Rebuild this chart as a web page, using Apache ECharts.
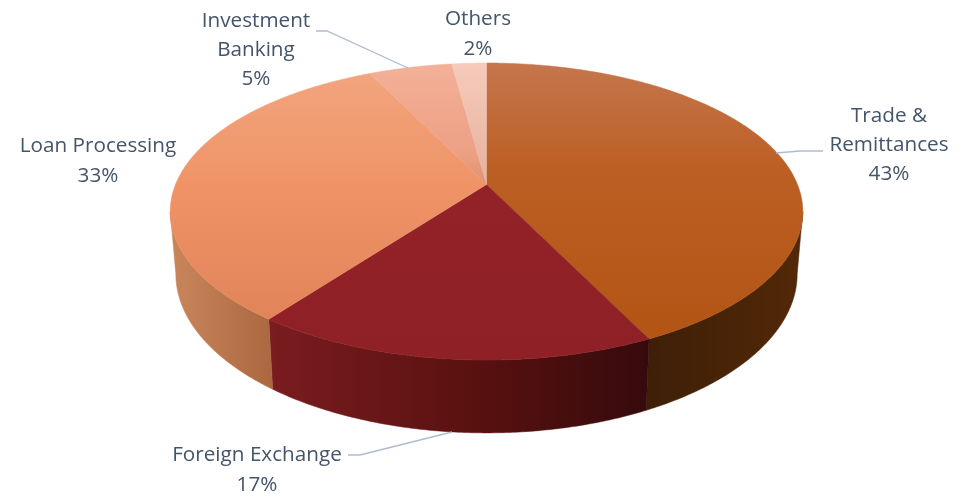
<!DOCTYPE html>
<html>
<head>
<meta charset="utf-8">
<style>html,body{margin:0;padding:0;background:#fff}#c{width:974px;height:494px}</style>
<script src="https://cdn.jsdelivr.net/npm/echarts@6/dist/echarts.min.js"></script>
</head>
<body>
<div id="c"></div>
<script>
// Data (labels show the rounded share)
var categories = ['Trade &\nRemittances', 'Foreign Exchange', 'Loan Processing', 'Investment\nBanking', 'Others'];
var shares = [42.8, 17.4, 32.6, 5.1, 2.1];

// Style
var topStops = [
  [[0, '#C5764D'], [0.36, '#BC5F24'], [1, '#B15311']],
  [[0, '#95222A'], [1, '#8F2026']],
  [[0, '#F2A67F'], [0.4, '#F09468'], [1, '#DD7F55']],
  [[0, '#F3B198'], [0.3, '#EDA084'], [0.42, '#E09071']],
  [[0, '#F6CBBB'], [0.42, '#E5B09C']]
];
var sideStops = [
  [[0, '#3E1F07'], [1, '#522808']],
  [[0, '#7A1C20'], [0.55, '#58110F'], [1, '#360A0D']],
  [[0, '#CA865B'], [1, '#AB6840']]
];
var textColor = '#44546A', leaderColor = '#AEBCCE';
var labelSpots = [[889, 145], [257, 470], [98, 161], [256, 50], [478, 34]];
var leaders = [
  [[776, 153], [800, 151], [823, 151]],
  [[452, 432], [360, 455], [348, 455]],
  null,
  [[408, 68], [327, 31], [316, 31]],
  null
];
// Projection of the pie's disc
var cx = 486.5, cyTop = 184.5, rTop = 311, aTop = 143.6, tilt = 0.182;
var cyBot = 245, rBot = 305.5, aBot = 153.7;
var rimRight = 100.5, rimLeft = 259.5; // angles where the disc's outline turns away

function project(deg, cy, r, a) {
  var t = deg * Math.PI / 180, x = Math.sin(t), y = -Math.cos(t), w = 1 - tilt * y;
  return [cx + r * x / w, cy + a * y / w];
}
var total = shares.reduce(function (s, v) { return s + v; }, 0);
function sweep(i) {
  var before = 0;
  for (var k = 0; k < i; k++) before += shares[k];
  return [before / total * 360, (before + shares[i]) / total * 360];
}
function arc(from, to, cy, r, a) {
  var pts = [], n = Math.max(2, Math.ceil((to - from) * 2));
  for (var k = 0; k <= n; k++) pts.push(project(from + (to - from) * k / n, cy, r, a));
  return pts;
}
function gradient(x0, y0, x1, y1, stops) {
  return new echarts.graphic.LinearGradient(x0, y0, x1, y1, stops.map(function (s) {
    return { offset: s[0], color: s[1] };
  }), true);
}
var data = shares.map(function (v, i) { return { value: [i, v], name: categories[i].replace('\n', ' ') }; });

function renderSide(params, api) {
  var i = api.value(0), s = sweep(i);
  var lo = Math.max(s[0], rimRight), hi = Math.min(s[1], rimLeft);
  if (hi <= lo) return { type: 'group', children: [] };
  var a = arc(lo, hi, cyTop, rTop, aTop), b = arc(lo, hi, cyBot, rBot, aBot).reverse();
  var xs = a.concat(b).map(function (p) { return p[0]; });
  var g = gradient(Math.min.apply(null, xs), 0, Math.max.apply(null, xs), 0, sideStops[i]);
  return { type: 'polygon', silent: true, shape: { points: a.concat(b) }, style: { fill: g, stroke: g, lineWidth: 0.5 } };
}
function renderTop(params, api) {
  var i = api.value(0), s = sweep(i);
  var pts = [[cx, cyTop]].concat(arc(s[0], s[1], cyTop, rTop, aTop));
  var g = gradient(0, 63, 0, 360, topStops[i]);
  return { type: 'polygon', silent: true, shape: { points: pts }, style: { fill: g, stroke: g, lineWidth: 0.5 } };
}
function renderLabel(params, api) {
  var i = api.value(0), kids = [];
  kids.push({
    type: 'text', silent: true, x: labelSpots[i][0], y: labelSpots[i][1],
    style: {
      text: categories[i] + '\n' + Math.round(api.value(1) / total * 100) + '%',
      fill: textColor, font: '20.7px "Open Sans"', lineHeight: 29.3,
      align: 'center', verticalAlign: 'middle'
    }
  });
  if (leaders[i]) kids.push({
    type: 'polyline', silent: true, shape: { points: leaders[i] },
    style: { stroke: leaderColor, lineWidth: 1.3, fill: 'none' }
  });
  return { type: 'group', children: kids };
}
function layer(fn, z) {
  return { type: 'custom', coordinateSystem: 'none', renderItem: fn, data: data, z: z, animation: false, clip: false,
    encode: { tooltip: 1, itemName: 0 } };
}
var chart = echarts.init(document.getElementById('c'), null, { renderer: 'canvas' });
chart.setOption({
  backgroundColor: '#fff', animation: false,
  series: [layer(renderSide, 1), layer(renderTop, 2), layer(renderLabel, 3)]
});
</script>
</body>
</html>
